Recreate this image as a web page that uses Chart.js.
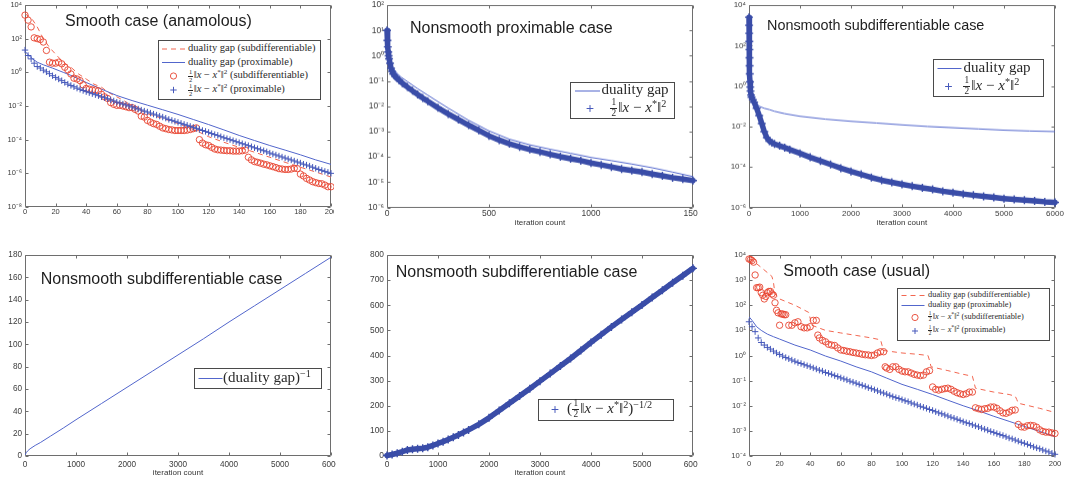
<!DOCTYPE html>
<html><head><meta charset="utf-8">
<script src="https://cdn.jsdelivr.net/npm/chart.js@4.4.1/dist/chart.umd.min.js"></script>
<style>
html,body{margin:0;padding:0;background:#fff}
body{position:relative;width:1072px;height:483px;overflow:hidden}
.clip{position:absolute;overflow:hidden;z-index:1}
.clip canvas{position:absolute;left:0;top:0}
.ttl{position:absolute;white-space:nowrap;color:#1e1e1e;font-family:'Liberation Sans',Arial,Helvetica,sans-serif;line-height:1;z-index:3}
.leg{position:absolute;box-sizing:border-box;border:1px solid #4a4a4a;background:#fff;font-family:'Liberation Serif','Times New Roman',serif;color:#2a2a2a;z-index:3}
.leg .r{position:absolute;white-space:nowrap}
.leg svg{position:absolute;overflow:visible}
.fr{display:inline-flex;flex-direction:column;align-items:center;vertical-align:middle;font-size:0.62em;line-height:1;margin:0 0.15em 0 0.05em}
.fr>span:first-child{border-bottom:0.7px solid currentColor;padding:0 0.1em}
sup{font-size:0.68em;line-height:0;vertical-align:0.5em}
</style>
</head><body>
<script>
// ---------------- DATA ----------------
// Shared iteration grid for the smooth-case marker series (every 2nd iteration)
const smoothIter = [0,2,4,6,8,10,12,14,16,18,20,22,24,26,28,30,32,34,36,38,40,42,44,46,48,50,52,54,56,58,60,62,64,66,68,70,72,74,76,78,80,82,84,86,88,90,92,94,96,98,100,102,104,106,108,110,112,114,116,118,120,122,124,126,128,130,132,134,136,138,140,142,144,146,148,150,152,154,156,158,160,162,164,166,168,170,172,174,176,178,180,182,184,186,188,190,192,194,196,198,200];

// Panel 1: Smooth case (anamolous)
const p1CircleY = [2500,1260,500,112,100,89,63,20,4,3.5,3.5,4,3.2,2,1.4,0.8,0.45,0.4,0.32,0.18,0.11,0.1,0.09,0.09,0.08,0.05,0.035,0.028,0.016,0.0126,0.011,0.011,0.01,0.009,0.008,0.008,0.0063,0.005,0.0025,0.0022,0.0014,0.0011,9e-4,8e-4,6.3e-4,5e-4,4.5e-4,4e-4,3.8e-4,3.5e-4,3.5e-4,3.5e-4,3.5e-4,3.7e-4,4e-4,4.5e-4,5e-4,1e-4,6.3e-5,5e-5,4.5e-5,3.5e-5,2.8e-5,2.5e-5,2.4e-5,2.3e-5,2.2e-5,2.2e-5,2.1e-5,2.1e-5,2.1e-5,2.2e-5,2.4e-5,9e-6,6.3e-6,5e-6,4.5e-6,4e-6,3.5e-6,3.2e-6,2.8e-6,2.5e-6,2.2e-6,1.9e-6,1.8e-6,1.7e-6,1.7e-6,1.8e-6,2e-6,1.9e-6,9e-7,7e-7,5e-7,4e-7,3.2e-7,2.8e-7,2.5e-7,2.4e-7,2e-7,1.6e-7,1.6e-7];
const p1PlusY = [21,10,6.3,3.5,2.2,1.8,1.35,1.07,0.83,0.63,0.5,0.4,0.32,0.25,0.2,0.166,0.138,0.115,0.098,0.083,
  7.1e-2,6.2e-2,5.4e-2,4.7e-2,4.1e-2,3.5e-2,3.1e-2,2.7e-2,2.3e-2,2.0e-2,1.7e-2,1.5e-2,1.3e-2,1.15e-2,1.0e-2,8.7e-3,7.6e-3,6.6e-3,5.75e-3,5.0e-3,4.4e-3,3.8e-3,3.3e-3,2.9e-3,2.5e-3,2.2e-3,1.9e-3,1.6e-3,1.4e-3,1.23e-3,1.07e-3,9.3e-4,8.1e-4,7.1e-4,6.2e-4,5.4e-4,4.7e-4,4.1e-4,3.5e-4,3.1e-4,2.7e-4,2.3e-4,2.0e-4,1.8e-4,1.5e-4,1.3e-4,1.15e-4,1.0e-4,8.7e-5,7.6e-5,6.6e-5,5.75e-5,5.0e-5,4.4e-5,3.8e-5,3.3e-5,2.9e-5,2.5e-5,2.2e-5,1.9e-5,1.6e-5,1.4e-5,1.23e-5,1.07e-5,9.3e-6,8.1e-6,7.1e-6,6.2e-6,5.4e-6,4.7e-6,4.1e-6,3.5e-6,3.1e-6,2.7e-6,2.3e-6,2.0e-6,1.7e-6,1.5e-6,1.3e-6,1.15e-6,1.0e-6];
const p1GapSubX = [0,3,5,8,12,16,20,25,30,35,40,45,50,55,60,65,70,75,80,85,90,95,100,105,110,115,120,130,140,150,160,170,180,190,200];
const p1GapSubY = [3000,2000,1300,500,100,30,12,4,2,0.8,0.4,0.2,0.13,0.06,0.035,0.02,0.01,0.006,0.0035,0.0025,0.0018,0.0013,0.0009,0.0006,0.0004,0.00025,0.00015,7e-5,3.5e-5,1.8e-5,9e-6,4.5e-6,2.3e-6,1.2e-6,6e-7];
const p1GapProxX = [0,2,5,8,12,18,25,30,40,50,60,70,80,90,100,110,120,130,140,150,160,170,180,190,200];
const p1GapProxY = [17.8,11.2,6.3,4.0,2.8,1.78,1.0,0.66,0.25,0.1,0.042,0.021,0.0112,0.006,0.00316,0.00158,7.9e-4,3.8e-4,1.78e-4,8.9e-5,4.5e-5,2.4e-5,1.26e-5,6.3e-6,3.4e-6];
const p1XTicks = [0,20,40,60,80,100,120,140,160,180,200];
const p1YTicks = [1e-8,1e-6,1e-4,1e-2,1,1e2,1e4];

// Panel 2: Nonsmooth proximable case
const p2DistX = [0,2,4,6,8,10,15,20,25,30,40,50,60,75,100,125,150,175,200,250,300,350,400,450,500,550,600,650,700,750,800,850,900,950,1000,1050,1100,1150,1200,1250,1300,1350,1400,1450,1500];
const p2DistY = [10,4.0,2.24,1.41,1.0,0.76,0.5,0.316,0.24,0.19,0.151,0.126,0.107,0.083,0.058,0.041,0.0295,0.0214,0.0158,0.0087,0.005,0.003,0.0018,0.00112,0.00068,0.00046,0.00033,0.00025,0.000195,0.000158,0.000126,0.000102,8.5e-5,7.1e-5,5.75e-5,4.8e-5,4.0e-5,3.3e-5,2.9e-5,2.5e-5,2.1e-5,1.78e-5,1.5e-5,1.32e-5,1.15e-5];
const p2GapX = [0,5,10,20,30,50,70,100,150,200,300,400,500,600,700,800,900,1000,1100,1200,1300,1400,1500];
const p2GapY = [12.6,2.5,1.26,0.5,0.316,0.2,0.141,0.095,0.05,0.0275,0.0085,0.0028,0.00107,0.0005,0.0003,0.0002,0.000138,9.5e-5,7.1e-5,5.2e-5,3.7e-5,2.5e-5,1.66e-5];
const p2XTicks = [0,500,1000,1500];
const p2YTicks = [1e-6,1e-5,1e-4,1e-3,1e-2,1e-1,1,1e1,1e2];

// Panel 3: Nonsmooth subdifferentiable case (log)
const p3DistX = [0,2,4,6,8,10,12,15,20,25,30,40,50,75,100,150,200,250,300,350,400,450,500,600,700,800,1000,1200,1400,1600,1800,2000,2200,2400,2600,2800,3000,3200,3400,3600,3800,4000,4200,4400,4600,4800,5000,5200,5400,5600,5800,6000];
const p3DistY = [2500,1000,400,160,63,25,10,4,1.6,0.89,0.56,0.355,0.28,0.21,0.158,0.079,0.035,0.014,0.0056,0.0028,0.0019,0.00158,0.00138,0.00112,0.00091,0.00072,0.00047,0.0003,0.0002,0.000132,8.7e-5,6.0e-5,4.3e-5,3.0e-5,2.2e-5,1.74e-5,1.38e-5,1.12e-5,9.3e-6,7.8e-6,6.3e-6,5.4e-6,4.6e-6,4.0e-6,3.5e-6,3.1e-6,2.75e-6,2.5e-6,2.3e-6,2.1e-6,1.9e-6,1.78e-6];
const p3GapX = [0,10,25,50,100,200,300,400,500,700,1000,1500,2000,2500,3000,3500,4000,4500,5000,5500,6000];
const p3GapY = [0.63,0.45,0.355,0.28,0.19,0.1,0.079,0.068,0.056,0.043,0.032,0.023,0.018,0.0148,0.012,0.01,0.0087,0.0076,0.0066,0.006,0.0056];
const p3XTicks = [0,1000,2000,3000,4000,5000,6000];
const p3YTicks = [1e-6,1e-4,1e-2,1,1e2,1e4];

// Panel 4: (duality gap)^-1
const p4X = [0,25,50,100,200,300,500,750,1000,1500,2000,2500,3000,3500,4000,4500,5000,5500,6000];
const p4Y = [1,3,4.5,6.5,9.5,12,17.8,25,32.5,47,61.5,76,90.5,105,120,134.5,149,163.5,178];
const p4XTicks = [0,1000,2000,3000,4000,5000,6000];
const p4YTicks = [0,20,40,60,80,100,120,140,160,180];

// Panel 5: (1/2||x-x*||^2)^(-1/2)
const p5X = [0,100,200,300,400,500,600,700,800,900,1000,1100,1200,1300,1400,1500,1600,1800,2000,2200,2400,2600,2800,3000,3200,3400,3600,3800,4000,4200,4400,4600,4800,5000,5200,5400,5600,5800,6000];
const p5Y = [2,6,11,17,24,27,29,31,35,42,50,57,66,75,84,94,104,126,152,181,210,239,268,298,328,358,388,420,452,483,514,543,572,601,631,660,690,718,747];
const p5XTicks = [0,1000,2000,3000,4000,5000,6000];
const p5YTicks = [0,100,200,300,400,500,600,700,800];

// Panel 6: Smooth case (usual)
const p6CircleX = [0,1,2,3,4,5,6,7,8,9,10,11,12,13,14,15,16,17,18,19,20,21,22,23,24,26,28,30,32,34,36,38,40,42,44,45,46,48,50,52,54,56,58,60,62,64,66,68,70,72,74,76,78,80,82,84,86,88,89,90,92,94,96,98,100,102,104,106,108,110,112,114,116,118,120,122,124,126,128,130,132,134,136,138,140,142,144,146,148,150,152,154,156,158,160,162,164,166,168,170,172,174,176,178,180,182,184,186,188,190,192,194,196,198,200];
const p6CircleY = [6900,6600,6000,5200,1600,500,500,525,316,250,178,224,316,355,355,282,250,126,63,50,16,45,45,42,42,16,16,20,22,14,12.6,12.6,14,25,25,6.5,5,4,3.5,2.8,2.6,2.5,2,1.66,1.58,1.48,1.41,1.32,1.26,1.2,1.12,1.07,1.05,1.0,1.05,1.26,1.41,1.41,0.355,0.316,0.28,0.355,0.355,0.28,0.24,0.224,0.224,0.2,0.178,0.166,0.158,0.166,0.224,0.25,0.056,0.045,0.042,0.045,0.048,0.05,0.045,0.038,0.033,0.030,0.028,0.030,0.035,0.035,0.0083,0.0076,0.0071,0.0076,0.0079,0.0089,0.0089,0.0079,0.0063,0.0052,0.005,0.0056,0.0066,0.0068,0.0018,0.00145,0.0014,0.0016,0.00166,0.0016,0.0014,0.0011,0.00095,0.00089,0.00089,0.00083,0.00079];
const p6PlusY = [22,14,8.9,5.0,3.3,2.6,2.1,1.8,1.5,1.26,1.1,0.95,0.83,0.74,0.66,0.59,0.52,0.48,0.43,0.39,0.355,0.32,0.29,0.26,0.24,0.21,0.195,0.178,0.158,0.145,0.129,0.117,0.107,0.095,0.087,0.079,0.071,0.065,0.059,0.052,0.048,0.043,0.039,0.035,0.032,0.029,0.026,0.023,0.021,0.0195,0.0174,0.0158,0.0145,0.0129,0.0117,0.0107,0.0095,0.0087,0.0079,0.0071,0.0065,0.0058,0.0052,0.0048,0.0043,0.0039,0.0035,0.0032,0.0029,0.0026,0.0023,0.0021,0.00195,0.00174,0.00158,0.00145,0.00129,0.00117,0.00107,0.00095,0.00087,0.00078,0.00071,0.00065,0.00058,0.00052,0.00048,0.00043,0.00039,0.00035,0.00032,0.00029,0.00026,0.00023,0.00021,0.000195,0.000174,0.000158,0.000145,0.000129,0.000117];
const p6GapSubX = [0,3,8,15,16,17,20,30,39,40,41,50,60,70,80,86,87,88,100,110,117,118,119,130,140,146,147,148,160,170,174,175,176,190,200];
const p6GapSubY = [7100,5600,3200,1400,800,280,178,100,52,30,16,10,7.9,6.3,5.0,4.2,2.5,1.58,1.26,1.12,1.0,0.63,0.355,0.25,0.178,0.15,0.089,0.05,0.035,0.028,0.024,0.0178,0.0126,0.0079,0.0054];
const p6GapProxX = [0,2,5,8,12,16,20,30,40,50,60,70,80,90,100,110,120,130,140,150,160,170,180,190,200];
const p6GapProxY = [35,25,14,10,7.1,5.6,4.5,2.6,1.66,0.95,0.6,0.355,0.224,0.126,0.071,0.045,0.028,0.0166,0.01,0.0063,0.0038,0.0024,0.0015,0.00095,0.00059];
const p6XTicks = [0,20,40,60,80,100,120,140,160,180,200];
const p6YTicks = [1e-4,1e-3,1e-2,1e-1,1,1e1,1e2,1e3,1e4];

// ---------------- STYLE ----------------
const RED_C = '#e8432f', RED_D = '#f26650', BLUE_L = '#5266cc', BLUE_P = '#4659bb', BLUE_B = '#3a4da8';
Chart.defaults.font.family = "'Liberation Sans', Arial, Helvetica, sans-serif";

function pts(xs, ys){ return xs.map((x,i)=>({x:x, y:ys[i]})); }
function lineDs(xs, ys, color, dash){ return {data:pts(xs,ys), borderColor:color, borderWidth:1, borderDash:dash||[], pointRadius:0, tension:0, fill:false}; }
function markDs(xs, ys, style, color, r, bw){ return {data:pts(xs,ys), showLine:false, pointStyle:style, pointRadius:r, pointHoverRadius:r, pointBorderColor:color, pointBackgroundColor:'rgba(0,0,0,0)', pointBorderWidth:bw, borderColor:color, clip:false}; }
function bandDs(xs, ys){ return {data:pts(xs,ys), borderColor:BLUE_B, borderWidth:5.5, borderJoinStyle:'round', borderCapStyle:'round', pointStyle:'cross', pointRadius:4, pointHoverRadius:4, pointBorderColor:BLUE_B, pointBorderWidth:1.4, tension:0, fill:false, clip:false}; }

const SUP = {'-':'\u207B','0':'\u2070','1':'\u00B9','2':'\u00B2','3':'\u00B3','4':'\u2074','5':'\u2075','6':'\u2076','7':'\u2077','8':'\u2078','9':'\u2079'};
function logLabel(v){ const e = Math.round(Math.log10(v)); return '10' + String(e).split('').map(c=>SUP[c]).join(''); }

const framePlugin = {
  id:'frame',
  beforeDatasetsDraw(chart){
    const {ctx, chartArea:a, scales:{x, y}} = chart;
    const L = Math.round(a.left)+0.5, R = Math.round(a.right)-0.5, T = Math.round(a.top)+0.5, B = Math.round(a.bottom)-0.5;
    const tl = 3;
    ctx.save();
    ctx.strokeStyle = '#6e6e6e'; ctx.lineWidth = 1;
    ctx.beginPath();
    ctx.rect(L, T, R-L, B-T);
    x.ticks.forEach(t=>{ const px = Math.round(x.getPixelForValue(t.value))+0.5; ctx.moveTo(px,B); ctx.lineTo(px,B-tl); ctx.moveTo(px,T); ctx.lineTo(px,T+tl); });
    y.ticks.forEach(t=>{ const py = Math.round(y.getPixelForValue(t.value))+0.5; ctx.moveTo(L,py); ctx.lineTo(L+tl,py); ctx.moveTo(R,py); ctx.lineTo(R-tl,py); });
    ctx.stroke();
    ctx.restore();
  }
};

const YW = 25, PADT = 8, PADR = 25;
function build(p){
  const left = p.L - YW, top = p.T - PADT;
  const cw = YW + (p.R - p.L) + PADR, ch = PADT + (p.B - p.T) + p.xh;
  const div = document.createElement('div'); div.className = 'clip';
  div.style.cssText = 'left:'+left+'px;top:'+top+'px;width:'+(p.clipR-left)+'px;height:'+ch+'px';
  const cv = document.createElement('canvas'); cv.width = cw; cv.height = ch;
  cv.style.width = cw+'px'; cv.style.height = ch+'px';
  div.appendChild(cv); document.body.appendChild(div);
  const tickFont = {size:p.font, family:"'Liberation Sans', Arial, sans-serif"};
  new Chart(cv, {
    type:'line',
    data:{datasets:p.datasets},
    options:{
      responsive:false, animation:false, events:[],
      layout:{padding:{left:0, top:PADT, right:PADR, bottom:0}},
      plugins:{legend:{display:false}, tooltip:{enabled:false}},
      scales:{
        x:{type:'linear', min:p.xMin, max:p.xMax, bounds:'data',
           afterBuildTicks:s=>{ s.ticks = p.xTicks.map(v=>({value:v})); },
           afterFit:s=>{ s.height = p.xh; },
           grid:{display:false, drawTicks:false}, border:{display:false},
           ticks:{autoSkip:false, maxRotation:0, padding:p.xPad, color:'#3c3c3c', font:tickFont, callback:v=>String(v)},
           title:{display:!!p.xTitle, text:p.xTitle||'', padding:0, color:'#333', font:{size:8, family:"'Liberation Sans', Arial, sans-serif"}}},
        y:{type:p.yType, min:p.yMin, max:p.yMax, bounds:'data',
           afterBuildTicks:s=>{ s.ticks = p.yTicks.map(v=>({value:v})); },
           afterFit:s=>{ s.width = YW; },
           grid:{display:false, drawTicks:false}, border:{display:false},
           ticks:{autoSkip:false, padding:3, color:'#3c3c3c', font:tickFont, callback:v=> p.yType==='logarithmic' ? logLabel(v) : String(v)}}
      }
    },
    plugins:[framePlugin]
  });
}

const panels = [
  {L:25, T:5, R:331, B:207, clipR:334, xh:21, xPad:0, font:7.5, xTitle:'',
   yType:'logarithmic', yMin:1e-8, yMax:1e4, yTicks:p1YTicks, xMin:0, xMax:200, xTicks:p1XTicks,
   datasets:[ markDs(smoothIter, p1PlusY, 'cross', BLUE_P, 3.2, 1),
              markDs(smoothIter, p1CircleY, 'circle', RED_C, 3.2, 0.9),
              lineDs(p1GapProxX, p1GapProxY, BLUE_L),
              lineDs(p1GapSubX, p1GapSubY, RED_D, [5,4]) ]},
  {L:387, T:5, R:693, B:207, clipR:698, xh:20.5, xPad:1.2, font:8.5, xTitle:'iteration count',
   yType:'logarithmic', yMin:1e-6, yMax:1e2, yTicks:p2YTicks, xMin:0, xMax:1500, xTicks:p2XTicks,
   datasets:[ bandDs(p2DistX, p2DistY), lineDs(p2GapX, p2GapY, BLUE_L) ]},
  {L:749, T:5, R:1055, B:207, clipR:1072, xh:20.5, xPad:1.2, font:8, xTitle:'iteration count',
   yType:'logarithmic', yMin:1e-6, yMax:1e4, yTicks:p3YTicks, xMin:0, xMax:6000, xTicks:p3XTicks,
   datasets:[ bandDs(p3DistX, p3DistY), lineDs(p3GapX, p3GapY, BLUE_L) ]},
  {L:25, T:255, R:331, B:456, clipR:336, xh:22, xPad:4, font:8.2, xTitle:'iteration count',
   yType:'linear', yMin:0, yMax:180, yTicks:p4YTicks, xMin:0, xMax:6000, xTicks:p4XTicks,
   datasets:[ lineDs(p4X, p4Y, BLUE_L) ]},
  {L:387, T:255, R:693, B:456, clipR:698, xh:22, xPad:4, font:8.4, xTitle:'iteration count',
   yType:'linear', yMin:0, yMax:800, yTicks:p5YTicks, xMin:0, xMax:6000, xTicks:p5XTicks,
   datasets:[ bandDs(p5X, p5Y) ]},
  {L:749, T:255, R:1055, B:456, clipR:1072, xh:22, xPad:3.5, font:7.6, xTitle:'',
   yType:'logarithmic', yMin:1e-4, yMax:1e4, yTicks:p6YTicks, xMin:0, xMax:200, xTicks:p6XTicks,
   datasets:[ markDs(smoothIter, p6PlusY, 'cross', BLUE_P, 3.2, 1),
              markDs(p6CircleX, p6CircleY, 'circle', RED_C, 3.2, 0.9),
              lineDs(p6GapProxX, p6GapProxY, BLUE_L),
              lineDs(p6GapSubX, p6GapSubY, RED_D, [5,4]) ]}
];
panels.forEach(build);

// ---------------- TITLES ----------------
const titles = [
  {t:'Smooth case (anamolous)', x:65, y:13.3, s:16},
  {t:'Nonsmooth proximable case', x:410, y:19.9, s:16},
  {t:'Nonsmooth subdifferentiable case', x:767, y:17.6, s:14.4},
  {t:'Nonsmooth subdifferentiable case', x:40.7, y:270.6, s:16},
  {t:'Nonsmooth subdifferentiable case', x:395.7, y:263.9, s:16},
  {t:'Smooth case (usual)', x:783.3, y:262.9, s:16}
];
titles.forEach(o=>{
  const d = document.createElement('div'); d.className = 'ttl';
  d.style.cssText = 'left:'+o.x+'px;top:'+o.y+'px;font-size:'+o.s+'px';
  d.textContent = o.t; document.body.appendChild(d);
});

// ---------------- LEGENDS ----------------
const FR = '<span class="fr"><span>1</span><span>2</span></span>';
const NRM = FR + '\u2016<i>x</i> \u2212 <i>x</i><sup>*</sup>\u2016<sup>2</sup>';
function sym(type, a, b, cy){
  if (type==='dash') return '<svg style="left:0;top:0" width="1" height="1"><line x1="'+a+'" y1="'+cy+'" x2="'+b+'" y2="'+cy+'" stroke="'+RED_D+'" stroke-width="1" stroke-dasharray="5 4"/></svg>';
  if (type==='line') return '<svg style="left:0;top:0" width="1" height="1"><line x1="'+a+'" y1="'+cy+'" x2="'+b+'" y2="'+cy+'" stroke="'+BLUE_L+'" stroke-width="1"/></svg>';
  if (type==='circ') return '<svg style="left:0;top:0" width="1" height="1"><circle cx="'+a+'" cy="'+cy+'" r="3.1" fill="none" stroke="'+RED_C+'" stroke-width="0.9"/></svg>';
  const r = b;
  return '<svg style="left:0;top:0" width="1" height="1"><path d="M'+(a-r)+' '+cy+'H'+(a+r)+'M'+a+' '+(cy-r)+'V'+(cy+r)+'" stroke="'+BLUE_P+'" stroke-width="1"/></svg>';
}
const legends = [
  {x:158, y:40, w:163, h:60, fs:10.5, rows:[
    {cy:9, s:['dash',4,27], tx:30, h:'duality gap (subdifferentiable)'},
    {cy:22.5, s:['line',4,27], tx:30, h:'duality gap (proximable)'},
    {cy:36, s:['circ',15.5,0], tx:30, h:NRM+' (subdifferentiable)'},
    {cy:50, s:['plus',15.5,3.2], tx:30, h:NRM+' (proximable)'}]},
  {x:570, y:82, w:105, h:37, fs:15, rows:[
    {cy:9, s:['line',5,30], tx:31.5, h:'duality gap'},
    {cy:26.5, s:['plus',20,3.4], tx:40, h:NRM}]},
  {x:933, y:59, w:111, h:38, fs:15, rows:[
    {cy:9.5, s:['line',4.5,28.5], tx:30.5, h:'duality gap'},
    {cy:27.5, s:['plus',15.5,3.4], tx:30, h:NRM}]},
  {x:194, y:368, w:128, h:21, fs:15, rows:[
    {cy:10.5, s:['line',4.5,28.5], tx:29, h:'(duality gap)<sup>\u22121</sup>'}]},
  {x:538, y:399, w:136, h:22, fs:15, rows:[
    {cy:10.5, s:['plus',17,3.4], tx:29, h:'('+NRM+')<sup>\u22121/2</sup>'}]},
  {x:897, y:288, w:153, h:53, fs:8.4, rows:[
    {cy:7.5, s:['dash',4.5,27.5], tx:31, h:'duality gap (subdifferentiable)'},
    {cy:17.5, s:['line',4.5,27.5], tx:31, h:'duality gap (proximable)'},
    {cy:29.5, s:['circ',18,0], tx:31, h:NRM+' (subdifferentiable)'},
    {cy:43, s:['plus',18,3], tx:31, h:NRM+' (proximable)'}]}
];
legends.forEach(L=>{
  const d = document.createElement('div'); d.className = 'leg';
  d.style.cssText = 'left:'+L.x+'px;top:'+L.y+'px;width:'+L.w+'px;height:'+L.h+'px;font-size:'+L.fs+'px';
  let html = '';
  const lh = Math.round(L.fs*1.4);
  L.rows.forEach(r=>{
    const cy = r.cy - 1;
    html += sym(r.s[0], r.s[1]-1, r.s[2]-(r.s[0]==='plus'||r.s[0]==='circ'?0:1), cy);
    html += '<div class="r" style="left:'+(r.tx-1)+'px;top:'+(cy - lh/2 - 0.1*L.fs)+'px;line-height:'+lh+'px;height:'+lh+'px">'+r.h+'</div>';
  });
  d.innerHTML = html;
  document.body.appendChild(d);
});
</script>
</body></html>
